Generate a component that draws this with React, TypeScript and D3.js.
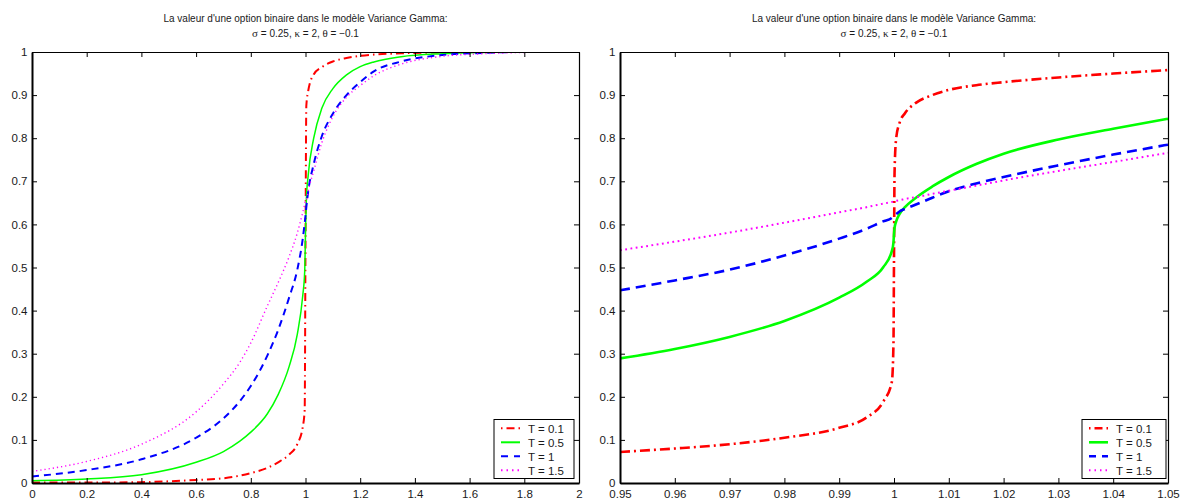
import React, { useEffect, useRef } from 'react';
import * as d3 from 'd3';

const seriesNames = ['T = 0.1', 'T = 0.5', 'T = 1', 'T = 1.5'];
const seriesColors = ['#ff0000', '#00ff00', '#0000ff', '#ff00ff'];

// left panel, x from 0 to 2
const leftX = [0, 0.2, 0.4, 0.6, 0.7, 0.76, 0.8, 0.86, 0.9, 0.94, 0.97, 0.99, 0.997, 1.0, 1.003, 1.01, 1.03, 1.06, 1.1, 1.15, 1.2, 1.25, 1.35, 1.5, 1.65, 1.8, 2];
const leftT01 = [0.001, 0.001, 0.002, 0.007, 0.011, 0.017, 0.023, 0.035, 0.048, 0.066, 0.09, 0.13, 0.17, 0.55, 0.875, 0.91, 0.948, 0.965, 0.978, 0.986, 0.991, 0.994, 0.997, 0.999, 1, 1, 1];
const leftT05 = [0.005, 0.009, 0.019, 0.048, 0.073, 0.097, 0.118, 0.16, 0.205, 0.27, 0.345, 0.435, 0.49, 0.578, 0.655, 0.715, 0.8, 0.87, 0.915, 0.947, 0.966, 0.977, 0.989, 0.996, 0.999, 1, 1];
const leftT1 = [0.015, 0.03, 0.055, 0.105, 0.15, 0.19, 0.225, 0.295, 0.355, 0.43, 0.495, 0.567, 0.603, 0.62, 0.64, 0.677, 0.74, 0.805, 0.857, 0.9, 0.93, 0.955, 0.978, 0.993, 0.998, 1, 1];
const leftT15 = [0.027, 0.05, 0.09, 0.165, 0.23, 0.28, 0.325, 0.41, 0.465, 0.525, 0.58, 0.628, 0.646, 0.654, 0.656, 0.678, 0.724, 0.79, 0.85, 0.895, 0.922, 0.945, 0.972, 0.99, 0.996, 0.999, 1];

// right panel, zoom around x = 1
const rightX = [0.95, 0.96, 0.97, 0.98, 0.99, 0.995, 0.998, 0.9996, 0.9999, 1.0, 1.0001, 1.0004, 1.001, 1.002, 1.004, 1.007, 1.01, 1.015, 1.02, 1.03, 1.04, 1.05];
const rightT01 = [0.072, 0.08, 0.09, 0.105, 0.128, 0.152, 0.188, 0.234, 0.32, 0.52, 0.72, 0.8, 0.835, 0.858, 0.882, 0.9, 0.912, 0.923, 0.93, 0.941, 0.95, 0.958];
const rightT05 = [0.289, 0.311, 0.339, 0.376, 0.43, 0.467, 0.5, 0.538, 0.558, 0.578, 0.592, 0.607, 0.624, 0.64, 0.662, 0.688, 0.71, 0.74, 0.764, 0.797, 0.822, 0.845];
const rightT1 = [0.447, 0.47, 0.495, 0.528, 0.567, 0.59, 0.607, 0.615, 0.618, 0.62, 0.621, 0.624, 0.63, 0.636, 0.646, 0.662, 0.677, 0.695, 0.71, 0.737, 0.762, 0.785];
const rightT15 = [0.54, 0.56, 0.581, 0.604, 0.628, 0.64, 0.648, 0.652, 0.653, 0.654, 0.654, 0.655, 0.656, 0.659, 0.663, 0.671, 0.678, 0.69, 0.702, 0.724, 0.745, 0.766];

const yTicks = [0, 0.1, 0.2, 0.3, 0.4, 0.5, 0.6, 0.7, 0.8, 0.9, 1];
const leftXTicks = [0, 0.2, 0.4, 0.6, 0.8, 1, 1.2, 1.4, 1.6, 1.8, 2];
const rightXTicks = [0.95, 0.96, 0.97, 0.98, 0.99, 1, 1.01, 1.02, 1.03, 1.04, 1.05];

const titleLine1 = "La valeur d'une option binaire dans le modèle Variance Gamma:";

const FONT = '"Liberation Sans", Arial, Helvetica, sans-serif';
const W = 1180;
const H = 501;

const panels = [
  {
    id: 'a', left: 32, right: 579, top: 52, bottom: 483,
    xs: leftX, series: [leftT01, leftT05, leftT1, leftT15],
    xDomain: [0, 2], xTicks: leftXTicks, digits: 1,
    widths: [2, 1.5, 2, 1.4],
    dashes: ['8 4 1.5 4', null, '7 5', '1.2 3'],
    legendX: 494, legendW: 80,
  },
  {
    id: 'b', left: 620, right: 1168, top: 52, bottom: 483,
    xs: rightX, series: [rightT01, rightT05, rightT1, rightT15],
    xDomain: [0.95, 1.05], xTicks: rightXTicks, digits: 2,
    widths: [2.6, 2.6, 2.6, 2],
    dashes: ['10 4 2 4', null, '10 6', '1.8 3.5'],
    legendX: 1082, legendW: 84,
  },
];

const legendDashes = ['1.5 4 8 4', null, '7 6', '1.5 4'];

function drawPanel(svg: any, p: any) {
  const x = d3.scaleLinear().domain(p.xDomain).range([p.left, p.right]);
  const y = d3.scaleLinear().domain([0, 1]).range([p.bottom, p.top]);

  svg.append('clipPath').attr('id', 'clip-' + p.id)
    .append('rect')
    .attr('x', p.left).attr('y', p.top)
    .attr('width', p.right - p.left).attr('height', p.bottom - p.top);

  const plot = svg.append('g').attr('clip-path', `url(#clip-${p.id})`);

  p.series.forEach((vals: number[], i: number) => {
    const line = d3.line<number>()
      .x((d, j) => x(p.xs[j]))
      .y(d => y(d))
      .curve(d3.curveMonotoneX);
    plot.append('path')
      .datum(vals)
      .attr('d', line)
      .attr('fill', 'none')
      .attr('stroke', seriesColors[i])
      .attr('stroke-width', p.widths[i])
      .attr('stroke-dasharray', p.dashes[i])
      .attr('stroke-linejoin', 'round');
  });

  const fmt = (d: any) => String(+(+d).toFixed(p.digits));

  const bottom = svg.append('g')
    .attr('transform', `translate(0,${p.bottom})`)
    .call(d3.axisBottom(x).tickValues(p.xTicks).tickSizeInner(-5).tickSizeOuter(0).tickPadding(7).tickFormat(fmt));
  const top = svg.append('g')
    .attr('transform', `translate(0,${p.top})`)
    .call(d3.axisTop(x).tickValues(p.xTicks).tickSizeInner(-5).tickSizeOuter(0).tickFormat(() => ''));
  const left = svg.append('g')
    .attr('transform', `translate(${p.left},0)`)
    .call(d3.axisLeft(y).tickValues(yTicks).tickSizeInner(-5).tickSizeOuter(0).tickPadding(4.5).tickFormat(fmt));
  const right = svg.append('g')
    .attr('transform', `translate(${p.right},0)`)
    .call(d3.axisRight(y).tickValues(yTicks).tickSizeInner(-5).tickSizeOuter(0).tickFormat(() => ''));

  [bottom, top, left, right].forEach(ax => {
    ax.attr('font-family', FONT).attr('font-size', 11.5);
    ax.selectAll('.domain').attr('stroke', '#000').attr('stroke-width', 1.2);
    ax.selectAll('.tick line').attr('stroke', '#000').attr('stroke-width', 1);
    ax.selectAll('.tick text').attr('fill', '#1a1a1a');
  });
  bottom.selectAll('.domain').attr('stroke-width', 2);
  left.selectAll('.domain').attr('stroke-width', 2);

  // title
  const cx = (p.left + p.right) / 2;
  svg.append('text')
    .attr('x', cx).attr('y', 21.5)
    .attr('text-anchor', 'middle')
    .attr('font-family', FONT).attr('font-size', 10)
    .attr('fill', '#1a1a1a')
    .text(titleLine1);
  const t2 = svg.append('text')
    .attr('x', cx).attr('y', 37)
    .attr('text-anchor', 'middle')
    .attr('font-family', FONT).attr('font-size', 10)
    .attr('fill', '#1a1a1a');
  const parts: [string, boolean][] = [
    ['σ', true], [' = 0.25, ', false], ['κ', true], [' = 2, ', false], ['θ', true], [' = −0.1', false],
  ];
  parts.forEach(([s, greek]) => {
    t2.append('tspan')
      .attr('font-family', greek ? '"Liberation Serif", "Times New Roman", serif' : FONT)
      .attr('font-size', greek ? 11 : 10)
      .text(s);
  });

  // legend
  const lg = svg.append('g');
  lg.append('rect')
    .attr('x', p.legendX).attr('y', 419.5)
    .attr('width', p.legendW).attr('height', 59)
    .attr('fill', '#fff').attr('stroke', '#000').attr('stroke-width', 1);
  seriesNames.forEach((name, i) => {
    const ly = 428.3 + i * 14;
    lg.append('line')
      .attr('x1', p.legendX + 7).attr('x2', p.legendX + 26)
      .attr('y1', ly).attr('y2', ly)
      .attr('stroke', seriesColors[i])
      .attr('stroke-width', p.widths[i] < 2 ? 2 : p.widths[i])
      .attr('stroke-dasharray', legendDashes[i]);
    lg.append('text')
      .attr('x', p.legendX + 34).attr('y', ly + 4.2)
      .attr('font-family', FONT).attr('font-size', 11.5)
      .attr('fill', '#1a1a1a')
      .text(name);
  });
}

export default function App() {
  const ref = useRef<SVGSVGElement>(null);

  useEffect(() => {
    const svg = d3.select(ref.current);
    svg.selectAll('*').remove();
    panels.forEach(p => drawPanel(svg, p));
  }, []);

  return (
    <div style={{ position: 'absolute', left: 0, top: 0 }}>
      <svg ref={ref} width={W} height={H} style={{ display: 'block', background: '#fff' }} />
    </div>
  );
}
